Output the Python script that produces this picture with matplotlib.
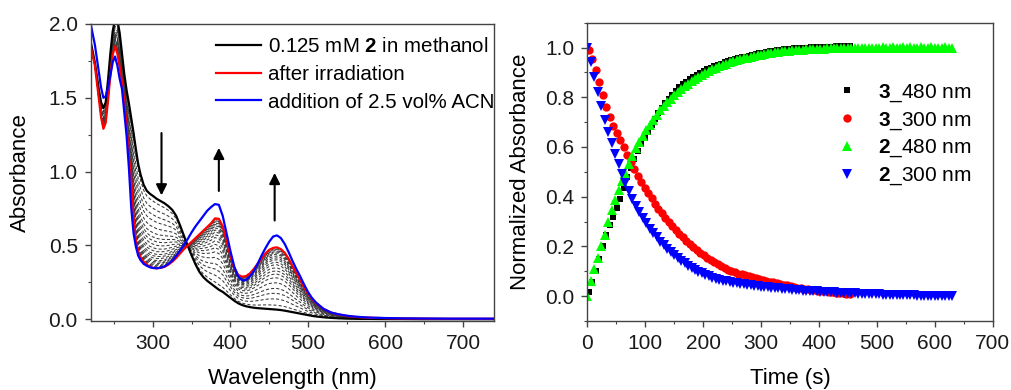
import numpy as np
import matplotlib
matplotlib.use("Agg")
import matplotlib.pyplot as plt
from matplotlib.ticker import MultipleLocator

plt.rcParams["font.family"] = ["Liberation Sans", "DejaVu Sans"]
plt.rcParams["mathtext.fontset"] = "custom"
plt.rcParams["mathtext.bf"] = "Liberation Sans:bold"
plt.rcParams["mathtext.rm"] = "Liberation Sans"

# ---- left panel: UV-vis spectra ----
wavelength = [220, 225, 230, 233, 236, 239, 242, 245, 248, 251,
              254, 257, 260, 263, 266, 269, 272, 275, 278, 281,
              284, 288, 292, 296, 300, 305, 310, 315, 320, 325,
              330, 335, 340, 345, 350, 355, 360, 365, 370, 375,
              380, 385, 390, 395, 400, 405, 410, 415, 420, 425,
              430, 435, 440, 445, 450, 455, 460, 465, 470, 475,
              480, 485, 490, 495, 500, 505, 510, 520, 530, 540,
              550, 560, 570, 580, 600, 620, 650, 680, 710, 740]

abs_initial = [1.87, 1.74, 1.56, 1.47, 1.43, 1.47, 1.62, 1.80, 1.95, 2.03,
               2.03, 1.94, 1.80, 1.66, 1.55, 1.46, 1.36, 1.26, 1.15, 1.05,
               0.98, 0.91, 0.87, 0.85, 0.835, 0.815, 0.80, 0.785, 0.765, 0.74,
               0.70, 0.635, 0.565, 0.495, 0.43, 0.37, 0.32, 0.285, 0.26, 0.24,
               0.22, 0.20, 0.185, 0.165, 0.145, 0.125, 0.108, 0.096, 0.088, 0.082,
               0.078, 0.075, 0.073, 0.071, 0.069, 0.067, 0.065, 0.062, 0.058, 0.053,
               0.048, 0.043, 0.038, 0.033, 0.028, 0.023, 0.019, 0.013, 0.009, 0.006,
               0.004, 0.003, 0.002, 0.002, 0.001, 0.001, 0.0, 0.0, 0.0, 0.0]

abs_irradiated = [1.84, 1.72, 1.50, 1.37, 1.29, 1.33, 1.48, 1.65, 1.79, 1.85,
                  1.80, 1.71, 1.61, 1.47, 1.30, 1.10, 0.95, 0.68, 0.53, 0.46,
                  0.42, 0.39, 0.37, 0.355, 0.348, 0.345, 0.348, 0.355, 0.37, 0.39,
                  0.415, 0.445, 0.475, 0.50, 0.525, 0.55, 0.575, 0.60, 0.625, 0.65,
                  0.683, 0.68, 0.63, 0.53, 0.43, 0.345, 0.30, 0.288, 0.292, 0.31,
                  0.34, 0.375, 0.41, 0.445, 0.47, 0.483, 0.487, 0.475, 0.45, 0.41,
                  0.36, 0.31, 0.265, 0.215, 0.175, 0.14, 0.11, 0.07, 0.045, 0.031,
                  0.022, 0.016, 0.012, 0.01, 0.007, 0.005, 0.004, 0.003, 0.003, 0.003]

abs_acn = [1.99, 1.86, 1.68, 1.57, 1.50, 1.51, 1.57, 1.65, 1.74, 1.78,
           1.72, 1.63, 1.56, 1.40, 1.24, 1.02, 0.75, 0.58, 0.49, 0.43,
           0.40, 0.375, 0.362, 0.352, 0.347, 0.345, 0.349, 0.358, 0.375, 0.398,
           0.43, 0.465, 0.505, 0.545, 0.59, 0.63, 0.665, 0.70, 0.735, 0.76,
           0.78, 0.775, 0.70, 0.58, 0.46, 0.355, 0.29, 0.263, 0.265, 0.29,
           0.325, 0.375, 0.43, 0.48, 0.525, 0.56, 0.568, 0.55, 0.51, 0.455,
           0.395, 0.34, 0.29, 0.235, 0.185, 0.145, 0.115, 0.07, 0.045, 0.033,
           0.024, 0.018, 0.014, 0.011, 0.008, 0.006, 0.005, 0.004, 0.004, 0.004]

# conversion reached by each intermediate (dashed) spectrum
conversion = [0.07, 0.17, 0.26, 0.34, 0.43, 0.51, 0.57, 0.62, 0.67, 0.72,
              0.76, 0.80, 0.83, 0.86, 0.89, 0.91, 0.93, 0.95, 0.965, 0.98]

arrow_x = [311, 385, 457]
arrow_start = [1.28, 0.85, 0.65]
arrow_end = [0.82, 1.18, 1.01]

# ---- right panel: kinetics ----
step = 6
norm_3_480 = [0.015, 0.058, 0.10, 0.15, 0.20, 0.245, 0.285, 0.32, 0.355, 0.39,
              0.435, 0.48, 0.515, 0.553, 0.585, 0.612, 0.638, 0.662, 0.69, 0.713,
              0.735, 0.755, 0.775, 0.793, 0.81, 0.826, 0.84, 0.852, 0.863, 0.873,
              0.882, 0.891, 0.898, 0.905, 0.912, 0.918, 0.924, 0.93, 0.935, 0.94,
              0.945, 0.949, 0.953, 0.957, 0.961, 0.964, 0.968, 0.971, 0.974, 0.977,
              0.98, 0.983, 0.985, 0.987, 0.989, 0.991, 0.993, 0.994, 0.996, 0.997,
              0.998, 0.999, 1.0, 1.0, 1.001, 1.002, 1.002, 1.003, 1.003, 1.004,
              1.004, 1.005, 1.005, 1.005, 1.006, 1.006]

norm_3_300 = [0.99, 0.955, 0.91, 0.86, 0.81, 0.76, 0.72, 0.683, 0.655, 0.627,
              0.598, 0.568, 0.538, 0.51, 0.483, 0.459, 0.436, 0.414, 0.393, 0.372,
              0.352, 0.333, 0.315, 0.298, 0.281, 0.265, 0.25, 0.236, 0.222, 0.208,
              0.196, 0.185, 0.174, 0.164, 0.154, 0.145, 0.136, 0.128, 0.121, 0.114,
              0.107, 0.101, 0.096, 0.091, 0.088, 0.085, 0.081, 0.076, 0.072, 0.068,
              0.064, 0.061, 0.058, 0.055, 0.052, 0.049, 0.046, 0.043, 0.04, 0.037,
              0.034, 0.032, 0.03, 0.028, 0.026, 0.024, 0.022, 0.02, 0.019, 0.017,
              0.015, 0.014, 0.012, 0.011, 0.009, 0.008]

norm_2_480 = [0.0, 0.06, 0.11, 0.155, 0.20, 0.245, 0.30, 0.345, 0.385, 0.425,
              0.463, 0.497, 0.53, 0.563, 0.594, 0.62, 0.645, 0.668, 0.69, 0.71,
              0.73, 0.748, 0.765, 0.781, 0.795, 0.808, 0.821, 0.833, 0.844, 0.855,
              0.865, 0.874, 0.882, 0.89, 0.898, 0.905, 0.912, 0.918, 0.924, 0.93,
              0.935, 0.94, 0.944, 0.948, 0.952, 0.956, 0.96, 0.963, 0.966, 0.969,
              0.972, 0.974, 0.977, 0.979, 0.981, 0.983, 0.985, 0.986, 0.988, 0.989,
              0.99, 0.991, 0.992, 0.993, 0.994, 0.995, 0.995, 0.996, 0.996, 0.997,
              0.997, 0.998, 0.997, 0.998, 0.998, 0.999, 0.998, 0.999, 0.999, 1.0,
              0.999, 1.0, 1.0, 0.999, 1.0, 1.001, 1.0, 1.0, 1.001, 1.0,
              1.0, 1.001, 1.0, 1.001, 1.0, 1.0, 1.001, 1.0, 1.0, 1.001,
              1.0, 1.0, 1.0, 1.001, 1.0, 1.0]

norm_2_300 = [1.0, 0.94, 0.88, 0.82, 0.765, 0.71, 0.66, 0.615, 0.57, 0.53,
              0.49, 0.455, 0.422, 0.391, 0.363, 0.338, 0.315, 0.293, 0.272, 0.253,
              0.236, 0.219, 0.204, 0.19, 0.176, 0.164, 0.153, 0.142, 0.132, 0.123,
              0.114, 0.106, 0.099, 0.092, 0.086, 0.08, 0.075, 0.07, 0.066, 0.062,
              0.059, 0.056, 0.053, 0.051, 0.049, 0.047, 0.045, 0.044, 0.042, 0.04,
              0.038, 0.036, 0.035, 0.033, 0.032, 0.031, 0.029, 0.028, 0.027, 0.026,
              0.025, 0.023, 0.022, 0.021, 0.02, 0.019, 0.019, 0.018, 0.017, 0.016,
              0.015, 0.015, 0.014, 0.013, 0.013, 0.012, 0.011, 0.011, 0.01, 0.01,
              0.009, 0.008, 0.008, 0.007, 0.007, 0.006, 0.006, 0.005, 0.005, 0.004,
              0.004, 0.004, 0.003, 0.003, 0.003, 0.002, 0.002, 0.002, 0.001, 0.001,
              0.001, 0.001, 0.0, 0.0, 0.0, 0.0]

t3 = 3 + step * np.arange(len(norm_3_480))
t2 = step * np.arange(len(norm_2_480))

fig = plt.figure(figsize=(10.12, 3.9), dpi=100)
ax1 = fig.add_axes([0.0899, 0.1777, 0.3982, 0.7608])
ax2 = fig.add_axes([0.5803, 0.1769, 0.4006, 0.7649])

wl = np.array(wavelength)
a0 = np.array(abs_initial)
a1 = np.array(abs_irradiated)
for f in conversion:
    ax1.plot(wl, a0 + f * (a1 - a0), color="#3a3a3a", lw=0.75, ls=(0, (3, 2)))
ax1.plot(wl, a0, color="black", lw=1.6, label=r"0.125 mM $\mathbf{2}$ in methanol")
ax1.plot(wl, a1, color="#ff0000", lw=1.6, label="after irradiation")
ax1.plot(wl, abs_acn, color="#0000ff", lw=1.6, label="addition of 2.5 vol% ACN")

for x, y0, y1 in zip(arrow_x, arrow_start, arrow_end):
    ax1.annotate("", xy=(x, y1), xytext=(x, y0),
                 arrowprops=dict(arrowstyle="-|>", color="black", lw=1.5, mutation_scale=16))

ax1.set_xlim(220, 740)
ax1.set_ylim(-0.01, 2.0)
ax1.xaxis.set_major_locator(MultipleLocator(100))
ax1.xaxis.set_minor_locator(MultipleLocator(50))
ax1.yaxis.set_major_locator(MultipleLocator(0.5))
ax1.yaxis.set_minor_locator(MultipleLocator(0.25))
ax1.yaxis.set_major_formatter(plt.FormatStrFormatter("%.1f"))
ax1.set_xlabel("Wavelength (nm)", fontsize=16, labelpad=11)
ax1.set_ylabel("Absorbance", fontsize=16, labelpad=13)
ax1.legend(loc="upper right", bbox_to_anchor=(1.0, 0.955), frameon=False, fontsize=14.8,
           handlelength=2.2, handletextpad=0.3, labelspacing=0.42, borderpad=0, borderaxespad=0)

ax2.plot(t3, norm_3_480, ls="none", marker="s", ms=4.8, mew=0, color="black",
         label=r"$\mathbf{3}$_480 nm")
ax2.plot(t3, norm_3_300, ls="none", marker="o", ms=6, mew=0, color="#ff0000",
         label=r"$\mathbf{3}$_300 nm")
ax2.plot(t2, norm_2_480, ls="none", marker="^", ms=6.5, mew=0, color="#00ff00",
         label=r"$\mathbf{2}$_480 nm")
ax2.plot(t2, norm_2_300, ls="none", marker="v", ms=6.5, mew=0, color="#0000ff",
         label=r"$\mathbf{2}$_300 nm")
ax2.set_xlim(0, 700)
ax2.set_ylim(-0.1, 1.1)
ax2.xaxis.set_major_locator(MultipleLocator(100))
ax2.xaxis.set_minor_locator(MultipleLocator(50))
ax2.yaxis.set_minor_locator(MultipleLocator(0.1))
ax2.set_yticks([0.0, 0.2, 0.4, 0.6, 0.8, 1.0])
ax2.yaxis.set_major_formatter(plt.FormatStrFormatter("%.1f"))
ax2.set_xlabel("Time (s)", fontsize=16, labelpad=11)
ax2.set_ylabel("Normalized Absorbance", fontsize=16, labelpad=10)
ax2.legend(loc="upper right", bbox_to_anchor=(0.948, 0.80), frameon=False, fontsize=15,
           handlelength=2.0, handletextpad=0.5, labelspacing=0.3, borderpad=0, borderaxespad=0)

for ax in (ax1, ax2):
    for s in ax.spines.values():
        s.set_color("#444444")
        s.set_linewidth(1.0)
    ax.tick_params(which="both", direction="out", top=False, right=False,
                   colors="#444444", labelcolor="#1a1a1a", labelsize=15, pad=5)
    ax.tick_params(which="major", length=4.5, width=1.0)
    ax.tick_params(which="minor", length=2.5, width=0.8)

fig.savefig("out.png", dpi=100)
